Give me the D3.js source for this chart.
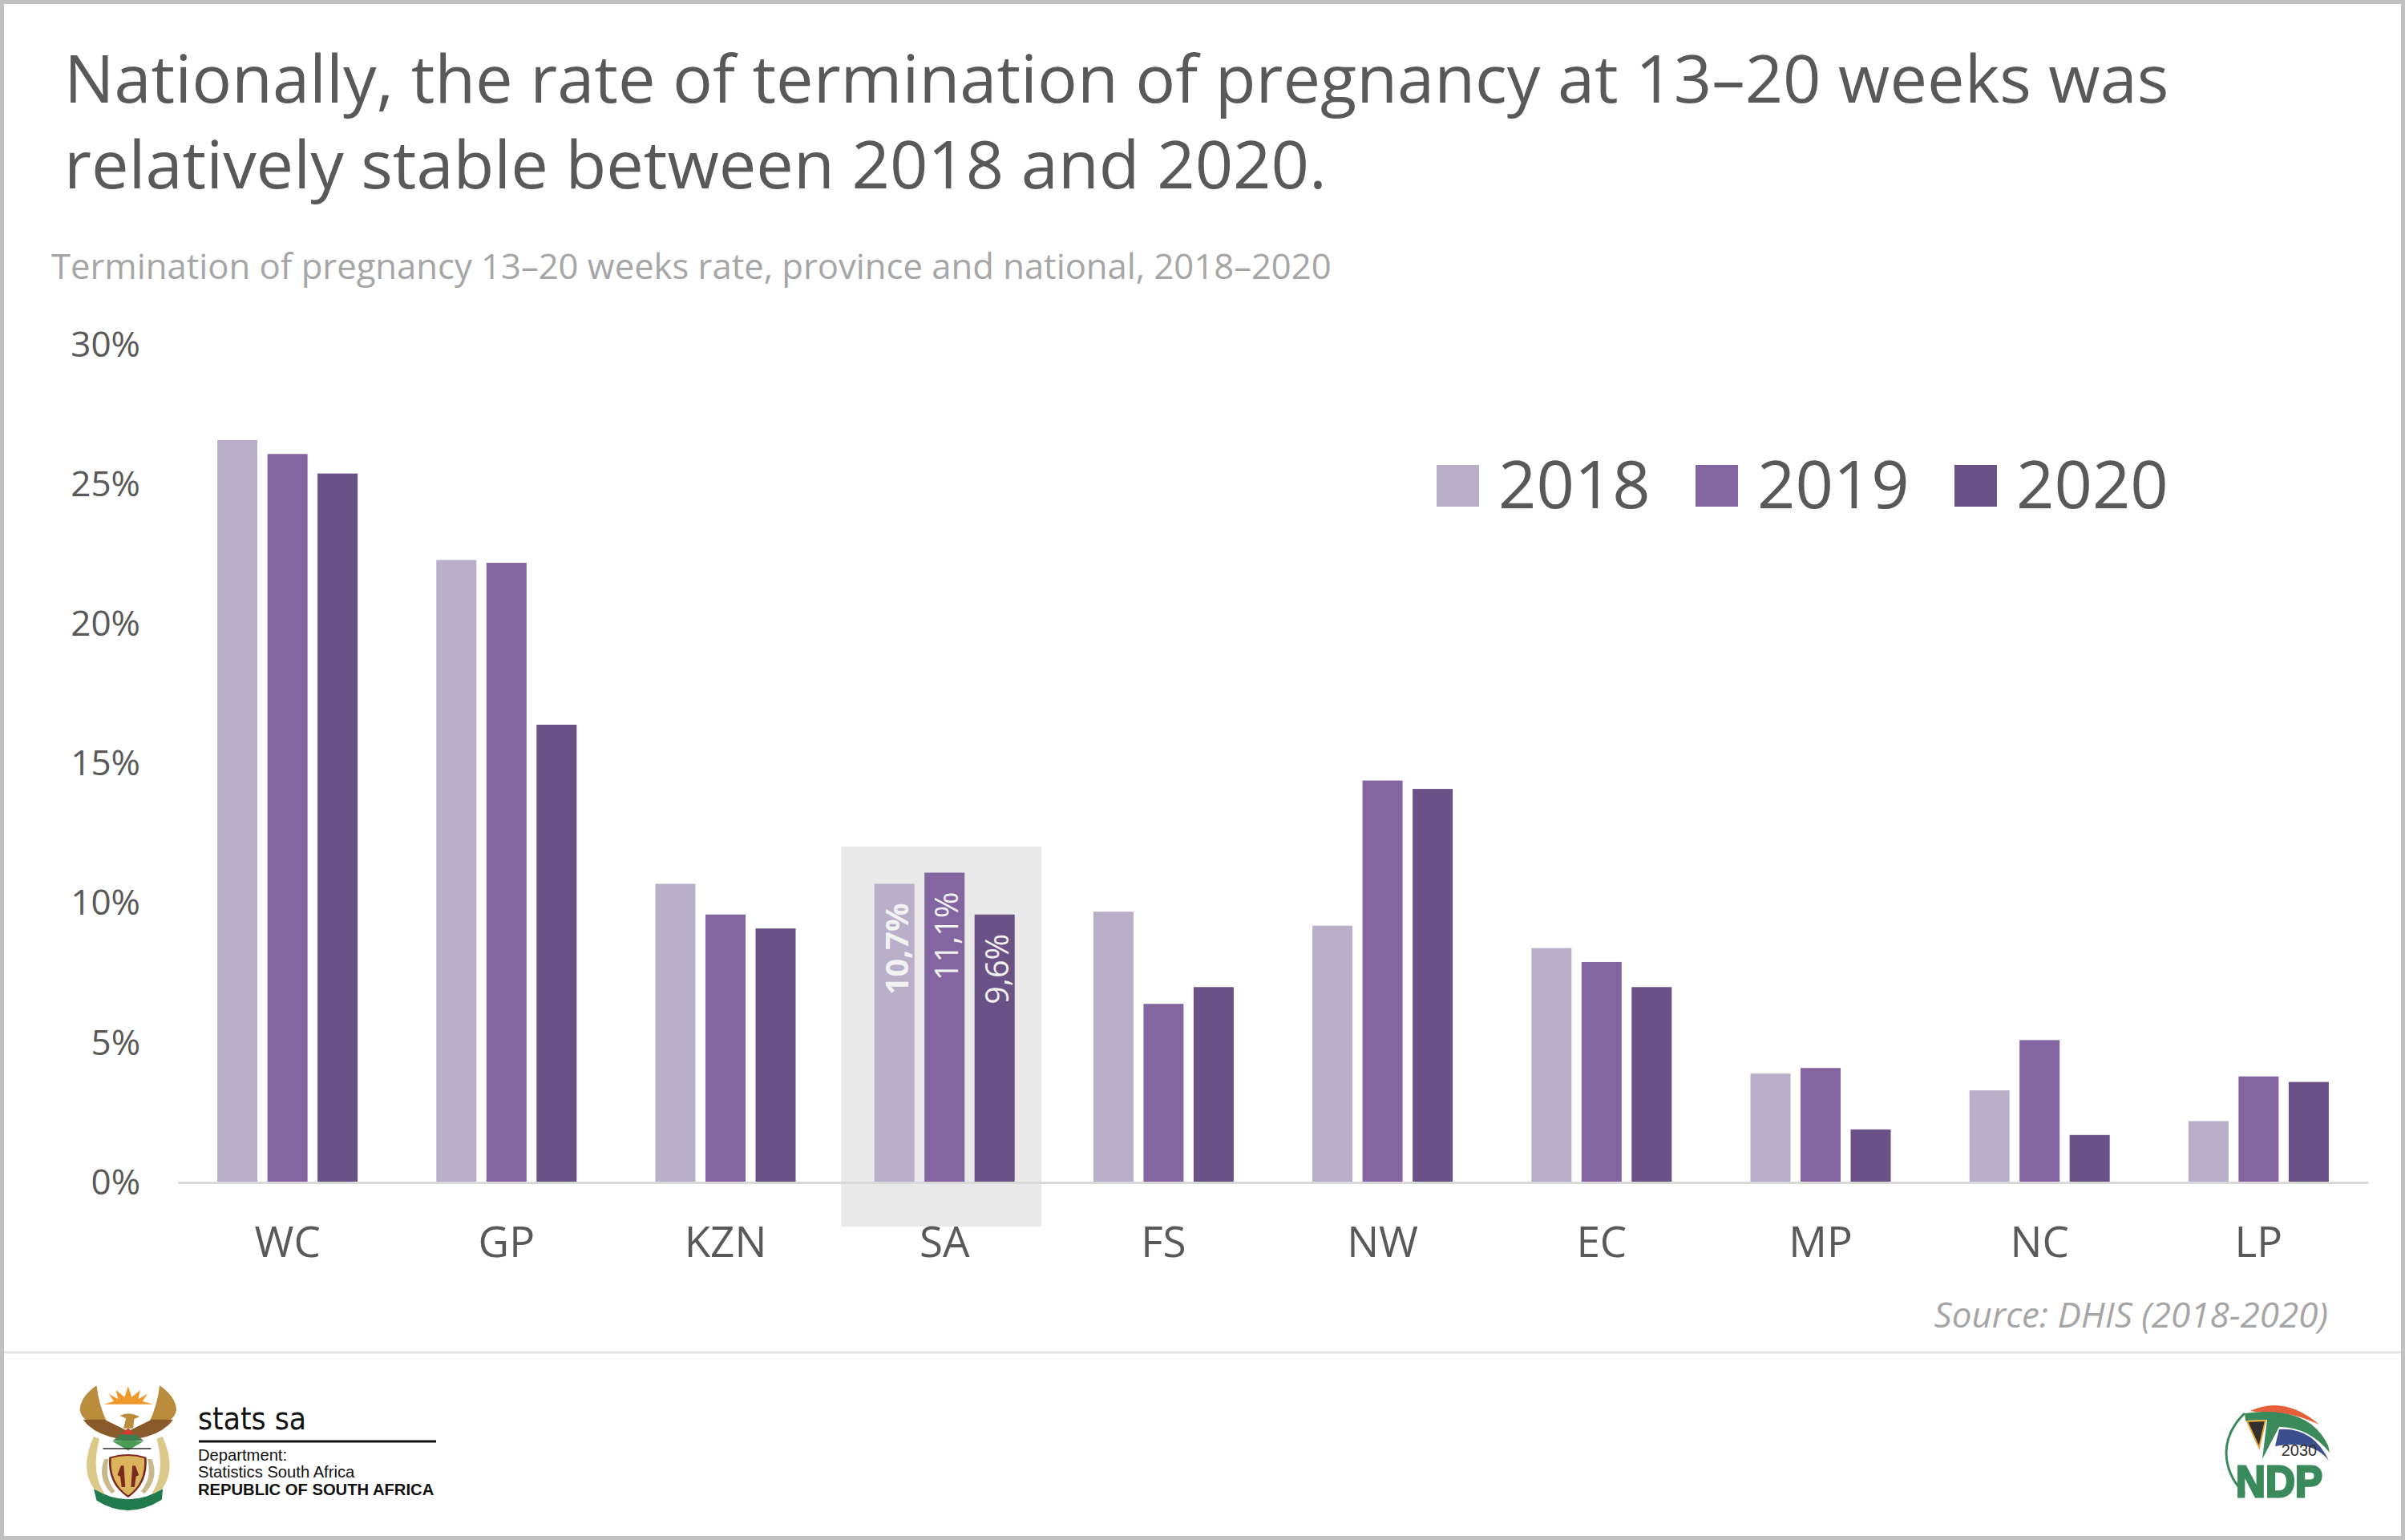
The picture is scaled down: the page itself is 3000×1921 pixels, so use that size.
<!DOCTYPE html>
<html><head><meta charset="utf-8">
<script src="https://cdn.jsdelivr.net/npm/d3@7"></script>
<style>html,body{margin:0;padding:0;background:#fff}svg{display:block}text{font-family:"Open Sans",sans-serif}</style>
</head><body><svg id="c" width="3000" height="1921"></svg>
<script>
const categories=["WC","GP","KZN","SA","FS","NW","EC","MP","NC","LP"];
const years=["2018","2019","2020"];
const v2018=[26.6,22.3,10.7,10.7,9.7,9.2,8.4,3.9,3.3,2.2];
const v2019=[26.1,22.2,9.6,11.1,6.4,14.4,7.9,4.1,5.1,3.8];
const v2020=[25.4,16.4,9.1,9.6,7.0,14.1,7.0,1.9,1.7,3.6];
const colors=["#b9afc9","#8265a1","#6a5186"];
const yTicks=[0,5,10,15,20,25,30];
const titleLines=["Nationally, the rate of termination of pregnancy at 13–20 weeks was","relatively stable between 2018 and 2020."];
const subtitle="Termination of pregnancy 13–20 weeks rate, province and national, 2018–2020";
const source="Source: DHIS (2018-2020)";
const series=[v2018,v2019,v2020];

const svg=d3.select("#c");
svg.append("rect").attr("x",2.5).attr("y",2.5).attr("width",2995).attr("height",1916).attr("fill","#fff").attr("stroke","#c0c0c0").attr("stroke-width",5);
svg.append("line").attr("x1",5).attr("x2",2995).attr("y1",1687).attr("y2",1687).attr("stroke","#e2e2e2").attr("stroke-width",3);

titleLines.forEach((t,i)=>svg.append("text").attr("x",80).attr("y",[128,235][i]).attr("font-size",83).attr("fill","#595959").text(t));
svg.append("text").attr("x",64).attr("y",348).attr("font-size",43.6).attr("fill","#a6a6a6").text(subtitle);

const x=d3.scaleBand().domain(categories).range([222,2954]);
const y=d3.scaleLinear().domain([0,30]).range([1475,430.5]);
const x1=d3.scaleBand().domain([0,1,2]).range([-87.5,87.5]).paddingInner(0.2).paddingOuter(0);

const sa=x("SA");
svg.append("rect").attr("x",sa+x.bandwidth()/2-129).attr("y",1056).attr("width",250).attr("height",474).attr("fill","#e9e9e9");

const g=svg.append("g");
categories.forEach((c,i)=>{
  series.forEach((s,j)=>{
    g.append("rect").attr("x",x(c)+x.bandwidth()/2+x1(j)).attr("y",y(s[i])).attr("width",x1.bandwidth()).attr("height",y(0)-y(s[i])).attr("fill",colors[j]);
  });
});
const iSA=categories.indexOf("SA");
series.forEach((s,j)=>{
  const px=x("SA")+x.bandwidth()/2+x1(j)+x1.bandwidth()/2+2, py=y(s[iSA])+24;
  svg.append("text").attr("transform",`translate(${px},${py}) rotate(-90)`).attr("text-anchor","end").attr("dominant-baseline","central")
    .attr("font-size",39.5).attr("font-weight",j==0?700:400).attr("fill","#f2f2f2").text(s[iSA].toFixed(1).replace(".",",")+"%");
});

const ax=svg.append("g").attr("transform","translate(0,1475)").call(d3.axisBottom(x).tickSize(0).tickPadding(55));
ax.select(".domain").attr("stroke","#d9d9d9").attr("stroke-width",3);
ax.selectAll("text").attr("font-size",53).attr("fill","#595959").attr("font-family",'"Open Sans",sans-serif');
const ay=svg.append("g").attr("transform","translate(175,0)").call(d3.axisLeft(y).tickValues(yTicks).tickSize(0).tickPadding(0).tickFormat(d=>d+"%"));
ay.select(".domain").remove();
ay.selectAll("text").attr("font-size",44).attr("fill","#595959").attr("font-family",'"Open Sans",sans-serif');

const lx=[1792,2115,2438];
years.forEach((t,i)=>{
  svg.append("rect").attr("x",lx[i]).attr("y",580).attr("width",53).attr("height",52).attr("fill",colors[i]);
  svg.append("text").attr("x",lx[i]+77).attr("y",634).attr("font-size",83).attr("fill","#595959").text(t);
});
svg.append("text").attr("x",2904).attr("y",1656).attr("text-anchor","end").attr("font-size",44).attr("font-style","italic").attr("fill","#a6a6a6").text(source);

// stats sa emblem, drawn as decoration in a local 2.24 x 3 space
const L=svg.append("g").attr("transform","translate(0,1680) scale(0.4464,0.3333)");
function wing(s){
  s.append("path").attr("d","M270 145 Q226 185 223 235 Q226 262 240 272 L300 285 Q276 220 270 145Z").attr("fill","#b98d3c");
  s.append("path").attr("d","M232 272 Q262 328 332 344 L352 312 L292 272Z").attr("fill","#8a5a2b");
  s.append("path").attr("d","M262 335 Q222 455 262 530 L300 565 Q250 480 278 345Z").attr("fill","#dcc888");
  s.append("path").attr("d","M292 420 Q270 490 312 550 L322 540 Q290 490 304 420Z").attr("fill","#c9b98a");
}
wing(L.append("g"));
wing(L.append("g").attr("transform","translate(716,0) scale(-1,1)"));
L.append("path").attr("d","M358 148 L368 188 L392 162 L386 196 L412 176 L398 204 L428 215 L290 215 L318 204 L304 176 L330 196 L324 162 L348 188Z").attr("fill","#f0982a");
L.append("path").attr("d","M335 258 Q360 240 390 262 L375 270 L372 305 L345 305 L352 268Z").attr("fill","#b98d3c");
L.append("path").attr("d","M358 305 L402 352 L315 352Z").attr("fill","#3f7d4a");
L.append("path").attr("d","M358 305 L378 328 L338 328Z").attr("fill","#d8392b");
L.append("path").attr("d","M315 355 Q358 345 400 355 L358 388Z").attr("fill","#4b9a55");
L.append("line").attr("x1",288).attr("x2",422).attr("y1",381).attr("y2",381).attr("stroke","#2b2b2b").attr("stroke-width",5);
L.append("path").attr("d","M308 415 Q358 395 406 415 Q412 510 358 560 Q302 510 308 415Z").attr("fill","#dcb45c").attr("stroke","#7a2a1e").attr("stroke-width",6);
L.append("path").attr("d","M338 445 L346 445 L350 525 L340 525 L336 485 L328 480Z M378 445 L370 445 L366 525 L376 525 L380 485 L388 480Z").attr("fill","#7a2a1e");
L.append("path").attr("d","M262 532 Q358 610 455 532 L452 572 Q358 650 270 575Z").attr("fill","#1f7a4d");
svg.append("text").attr("x",247).attr("y",1783).attr("font-size",39).attr("fill","#111").attr("style",'font-family:"DejaVu Sans";font-stretch:condensed').attr("textLength",135).attr("lengthAdjust","spacingAndGlyphs").text("stats sa");
svg.append("line").attr("x1",248).attr("x2",544).attr("y1",1798).attr("y2",1798).attr("stroke","#111").attr("stroke-width",3);
[["Department:",400,1822],["Statistics South Africa",400,1843],["REPUBLIC OF SOUTH AFRICA",700,1865]].forEach(d=>
  svg.append("text").attr("x",247).attr("y",d[2]).attr("font-size",20.2).attr("font-weight",d[1]).attr("fill","#111").attr("style",'font-family:"Liberation Sans"').text(d[0]));

// NDP logo
const N=svg.append("g");
N.append("path").attr("d","M2807 1760 Q2850 1740 2893 1777 Q2860 1762 2840 1763 Q2820 1762 2807 1760Z").attr("fill","#e5603a");
N.append("path").attr("d","M2800 1763 Q2880 1752 2904 1803 L2906 1812 Q2880 1780 2843 1780 L2822 1820 L2828 1771 L2801 1772Z").attr("fill","#3a8a5c");
N.append("path").attr("d","M2800 1763 Q2777 1785 2777 1813 Q2778 1842 2800 1863").attr("fill","none").attr("stroke","#3a8a5c").attr("stroke-width",3);
N.append("path").attr("d","M2803 1773 L2826 1772 L2818 1806Z").attr("fill","#33302e").attr("stroke","#e7a93c").attr("stroke-width",2);
N.append("path").attr("d","M2843 1783 Q2885 1780 2905 1822 Q2885 1796 2838 1804Z").attr("fill","#3b4f8f");
N.append("text").attr("x",2868).attr("y",1816).attr("font-size",20).attr("fill","#33302e").attr("text-anchor","middle").attr("style",'font-family:"Liberation Sans"').text("2030");
N.append("text").attr("x",2843).attr("y",1867).attr("font-size",56).attr("font-weight",700).attr("fill","#3a8a5c").attr("stroke","#3a8a5c").attr("stroke-width",3).attr("text-anchor","middle").attr("style",'font-family:"Liberation Sans"').attr("textLength",108).attr("lengthAdjust","spacingAndGlyphs").text("NDP");
</script></body></html>
